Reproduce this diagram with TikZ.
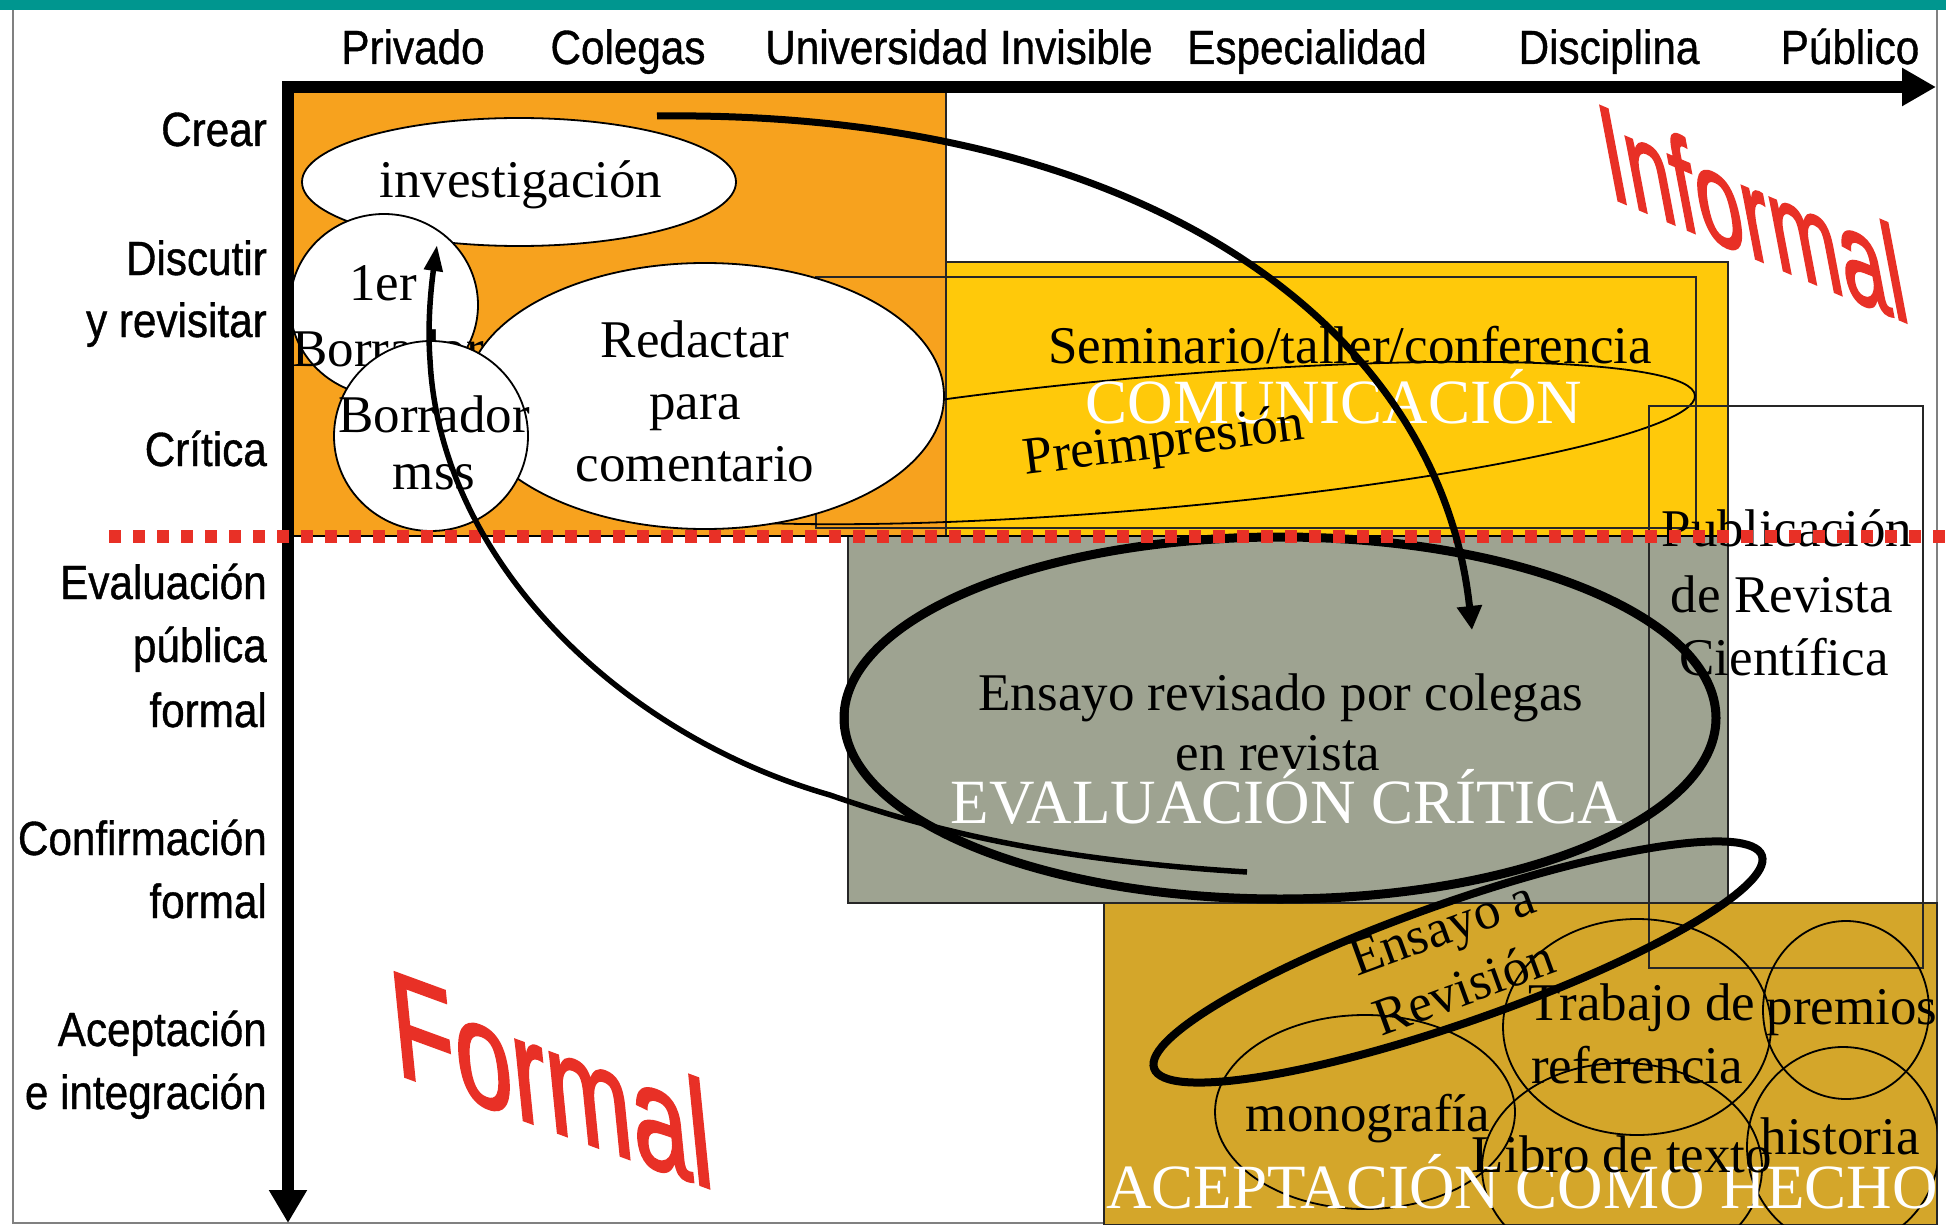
\documentclass[tikz,border=0pt]{standalone}
\usepackage{fontspec}
\setmainfont{Liberation Serif}
\newfontfamily\axfont[FakeStretch=0.88,FakeBold=0.8]{Liberation Sans}
\newfontfamily\redfont[FakeBold=2]{Liberation Sans}
\usetikzlibrary{arrows.meta,shapes.geometric}
\definecolor{teal0}{RGB}{0,150,143}
\definecolor{orangebox}{RGB}{247,162,30}
\definecolor{yellowbox}{RGB}{255,201,10}
\definecolor{graybox}{RGB}{158,163,145}
\definecolor{goldbox}{RGB}{212,166,42}
\definecolor{redtxt}{RGB}{232,48,38}
\definecolor{framegray}{RGB}{128,128,128}
\begin{document}
\begin{tikzpicture}[x=1pt,y=-1pt,
  boxline/.style={draw=black!85, line width=1.5pt},
  whiteell/.style={ellipse, draw=black, line width=1.8pt, fill=white, inner sep=0pt},
  ring/.style={ellipse, draw=black, line width=1.8pt, inner sep=0pt},
  sertxt/.style={font=\fontsize{53}{60}\selectfont, inner sep=0pt, anchor=base},
  captxt/.style={font=\fontsize{63}{70}\selectfont, text=white, inner sep=0pt, anchor=base},
  axtxt/.style={font=\axfont\fontsize{48}{64}\selectfont, inner sep=0pt},
  toplab/.style={axtxt, anchor=base},
  leftlab/.style={axtxt, anchor=base east},
  bigstroke/.style={ellipse, draw=black, inner sep=0pt}
  ]
\useasboundingbox (0,0) rectangle (1946,1225);
\fill[white] (0,0) rectangle (1946,1225);
\fill[teal0] (0,0) rectangle (1946,10);
\draw[framegray, line width=2pt] (13,10) -- (13,1223) -- (1937,1223) -- (1937,10);

% regions
\draw[boxline, fill=orangebox] (288,87) rectangle (946,536);
\draw[boxline, fill=yellowbox] (946,262) rectangle (1728,536);
\draw[boxline] (816,277) rectangle (1696,528);
\draw[boxline, fill=graybox] (848,536) rectangle (1728,903);
\draw[boxline, fill=goldbox] (1104,903) rectangle (1937,1225);

% communication zone
\node[ring, minimum width=1094pt, minimum height=132pt, rotate=5] (semell) at (1150,443) {};
\node[sertxt] (tsem) at (1350,363) {Seminario/taller/conferencia};
\node[captxt] (tcom) at (1334,423) {COMUNICACIÓN};
\node[sertxt, rotate=7.3] (tpre) at (1166,457) {Preimpresión};

% publication box
\draw[boxline] (1649,406) rectangle (1923,968);
\node[sertxt] (tpub1) at (1787,546) {Publicación};
\node[sertxt] (tpub2) at (1782,612) {de Revista};
\node[sertxt] (tpub3) at (1784,675) {Científica};

% creation ellipses
\node[whiteell, minimum width=434pt, minimum height=128pt] (inv) at (519,182) {};
\node[sertxt] (tinv) at (521,198) {investigación};
\node[whiteell, minimum width=188pt, minimum height=182pt] (er) at (384,305) {};
\node[sertxt] (ter1) at (383,300) {1er};
\node[sertxt] (ter2) at (388,366) {Borrador};
\node[whiteell, minimum width=478pt, minimum height=266pt] (redac) at (705,396) {};
\node[sertxt] (tred1) at (695,357) {Redactar};
\node[sertxt] (tred2) at (695,419) {para};
\node[sertxt] (tred3) at (695,481) {comentario};
\node[whiteell, minimum width=194pt, minimum height=190pt] (mss) at (431,436) {};
\node[sertxt] (tmss1) at (434,432) {Borrador};
\node[sertxt] (tmss2) at (434,489) {mss};

% evaluation texts
\node[sertxt] (tens1) at (1281,710) {Ensayo revisado por colegas};
\node[sertxt] (tens2) at (1278,770) {en revista};
\node[captxt] (teval) at (1287,823) {EVALUACIÓN CRÍTICA};

% acceptance zone
\begin{scope}
\clip (1104,903) rectangle (1937,1225);
\node[ring, minimum width=300pt, minimum height=194pt] (mono) at (1365,1112) {};
\node[ring, minimum width=268pt, minimum height=216pt] (trab) at (1637,1027) {};
\node[ring, minimum width=166pt, minimum height=178pt] (prem) at (1846,1010) {};
\node[ring, minimum width=280pt, minimum height=210pt] (libro) at (1622,1168) {};
\node[ring, minimum width=192pt, minimum height=200pt] (hist) at (1843,1147) {};
\end{scope}
\node[captxt] (tacep) at (1522,1208) {ACEPTACIÓN COMO HECHO};
\node[sertxt] (ttrab1) at (1642,1020) {Trabajo de};
\node[sertxt] (ttrab2) at (1637,1083) {referencia};
\node[sertxt] (tprem) at (1852,1024) {premios};
\node[sertxt] (tmono) at (1368,1131) {monografía};
\node[sertxt] (thist) at (1840,1154) {historia};
\node[sertxt] (tlib) at (1622,1172) {Libro de texto};

% axes
\coordinate (axbot) at (288,1223);
\coordinate (axcorner) at (288,87);
\coordinate (axright) at (1936,87);
\draw[line width=12pt, {Triangle[length=33pt,width=36pt]}-{Triangle[length=34pt,width=36pt]}] (axbot) -- (axcorner) -- (axright);

\node[toplab] (lpriv) at (413,64) {Privado};
\node[toplab] (lcol) at (628,64) {Colegas};
\node[toplab] (luni) at (959,64) {Universidad Invisible};
\node[toplab] (lesp) at (1307,64) {Especialidad};
\node[toplab] (ldis) at (1609,64) {Disciplina};
\node[toplab] (lpub) at (1850,64) {Público};

\node[leftlab] (lcrear) at (267,146) {Crear};
\node[leftlab] (ldisc1) at (267,275) {Discutir};
\node[leftlab] (ldisc2) at (267,337) {y revisitar};
\node[leftlab] (lcrit) at (267,466) {Crítica};
\node[leftlab] (leva1) at (267,599) {Evaluación};
\node[leftlab] (leva2) at (267,662) {pública};
\node[leftlab] (leva3) at (267,727) {formal};
\node[leftlab] (lconf1) at (267,855) {Confirmación};
\node[leftlab] (lconf2) at (267,918) {formal};
\node[leftlab] (lacep1) at (267,1046) {Aceptación};
\node[leftlab] (lacep2) at (267,1109) {e integración};

% thick loops
\node[bigstroke, line width=9pt, minimum width=872pt, minimum height=362pt] (bigell) at (1280,718) {};
\node[bigstroke, line width=8pt, minimum width=644pt, minimum height=120pt, rotate=19.3] (loop) at (1458,962) {};
\node[sertxt, rotate=20] (tea1) at (1448,944) {Ensayo a};
\node[sertxt, rotate=20] (tea2) at (1470,1004) {Revisión};

% divider
\draw[black, line width=1.5pt] (288,536) -- (1728,536);
\draw[redtxt, line width=13pt, dash pattern=on 12pt off 12pt] (109,536) -- (1946,536);

% arrows
\coordinate (a1s) at (657,116);
\coordinate (a1e) at (1472,630);
\draw[line width=7pt, -{Triangle[length=24pt,width=24pt]}] (a1s) .. controls (1150,110) and (1440,330) .. (a1e);
\coordinate (a2s) at (1247,872);
\coordinate (a2m) at (830,795);
\coordinate (a2n) at (430,360);
\coordinate (a2e) at (437,245);
\draw[line width=5.5pt, -{Triangle[length=26pt,width=18pt]}] (a2s) .. controls (1050,860) and (930,830) .. (a2m) .. controls (620,735) and (440,560) .. (a2n) .. controls (427,320) and (432,280) .. (a2e);

% formal / informal
\node[text=redtxt, font=\redfont\fontsize{137}{140}\selectfont, inner sep=0pt, transform shape, cm={0.61,-0.258,-0.19,1,(1752,212)}] (informal) at (0,0) {Informal};
\node[text=redtxt, font=\redfont\fontsize{151}{155}\selectfont, inner sep=0pt, transform shape, cm={0.68,-0.249,-0.1,1,(551,1078)}] (formal) at (0,0) {Formal};
\end{tikzpicture}
\end{document}
